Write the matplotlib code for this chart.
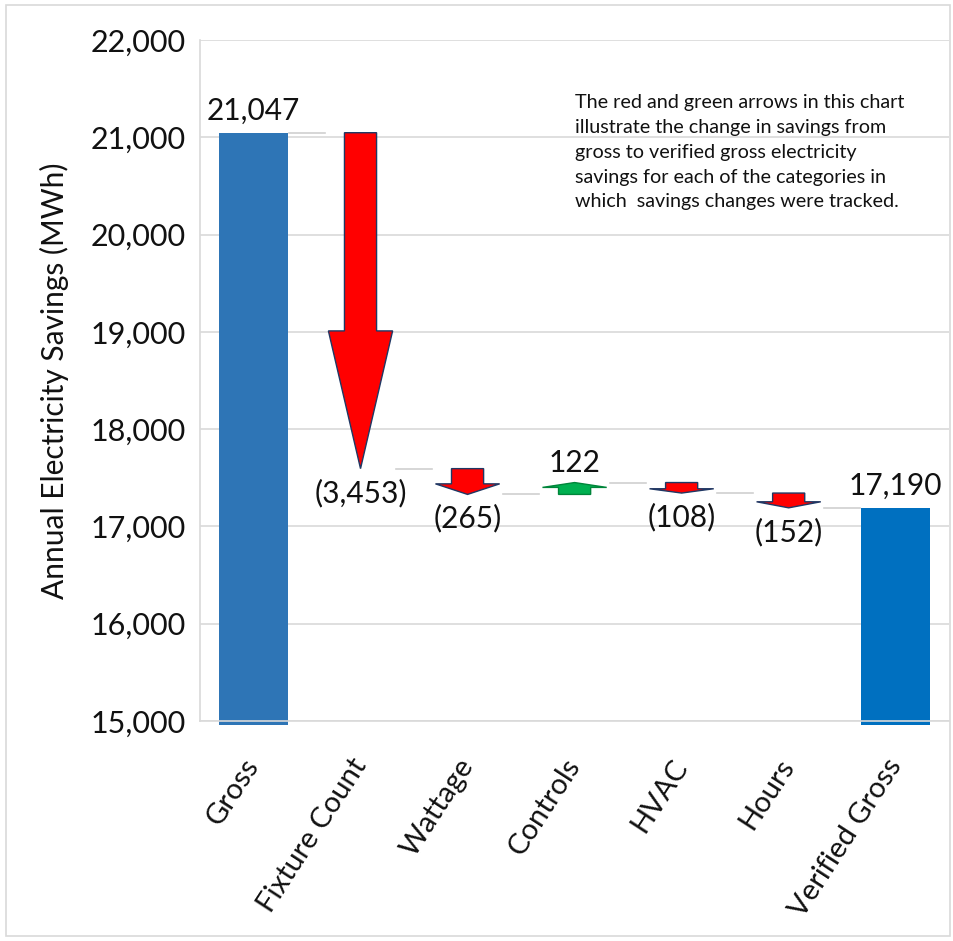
import matplotlib
matplotlib.use("Agg")
import matplotlib.pyplot as plt
from matplotlib.patches import Rectangle
from matplotlib.ticker import FuncFormatter

plt.rcParams["font.family"] = ["Lato", "DejaVu Sans"]

# data
categories = ["Gross", "Fixture Count", "Wattage", "Controls", "HVAC", "Hours", "Verified Gross"]
gross_total = 21047
changes = [-3453, -265, 122, -108, -152]
verified_total = 17190
note = ("The red and green arrows in this chart\n"
        "illustrate the change in savings from\n"
        "gross to verified gross electricity\n"
        "savings for each of the categories in\n"
        "which  savings changes were tracked.")

fig = plt.figure(figsize=(9.54, 9.41), dpi=100)
ax = fig.add_axes([0.2096, 0.2338, 0.7854, 0.7237])

ax.set_xlim(-0.5, 6.5)
ax.set_ylim(15000, 22000)
ax.set_yticks(range(15000, 22001, 1000))
ax.yaxis.set_major_formatter(FuncFormatter(lambda v, p: f"{int(v):,}"))
ax.grid(axis="y", color="#D9D9D9", linewidth=1.2, zorder=0)
ax.set_axisbelow(True)
for s in ["top", "right"]:
    ax.spines[s].set_visible(False)
for s in ["left", "bottom"]:
    ax.spines[s].set_color("#D9D9D9")
    ax.spines[s].set_linewidth(1.2)
    ax.spines[s].set_zorder(5)
ax.tick_params(axis="both", length=0, labelsize=22, colors="#111111")
ax.tick_params(axis="y", pad=10)
ax.set_ylabel("Annual Electricity Savings (MWh)", fontsize=21.5, labelpad=16, color="#111111")

ax.set_xticks(range(len(categories)))
ax.set_xticklabels(categories, rotation=57, ha="right", va="center",
                   rotation_mode="anchor", fontsize=21)
ax.tick_params(axis="x", pad=29)

bw = 0.65
# totals
ax.bar(0, gross_total - 14955, bottom=14955, width=bw, color="#2E75B6", zorder=3, clip_on=False)
ax.bar(6, verified_total - 14955, bottom=14955, width=bw, color="#0070C0", zorder=3, clip_on=False)
ax.annotate(f"{gross_total:,}", (0, gross_total), xytext=(0, 6), textcoords="offset points",
            ha="center", va="bottom", fontsize=21.5, color="#111111")
ax.annotate(f"{verified_total:,}", (6, verified_total), xytext=(0, 6), textcoords="offset points",
            ha="center", va="bottom", fontsize=21.5, color="#111111")

# arrows for each change
level = gross_total
levels = [gross_total]
for i, d in enumerate(changes, start=1):
    col = "#FF0000" if d < 0 else "#00B050"
    edge = "#1F3864" if d < 0 else "#00853A"
    ax.arrow(i, level, 0, d, width=0.3, head_width=0.6, head_length=abs(d) * 0.41,
             length_includes_head=True, facecolor=col, edgecolor=edge, linewidth=1.0, zorder=4)
    end = level + d
    if d < 0:
        txt = f"({abs(d):,})"
        ax.annotate(txt, (i, end), xytext=(0, -7), textcoords="offset points",
                    ha="center", va="top", fontsize=21.5, color="#111111")
    else:
        ax.annotate(f"{d:,}", (i, end), xytext=(0, 4), textcoords="offset points",
                    ha="center", va="bottom", fontsize=21.5, color="#111111")
    level = end
    levels.append(level)

# connector lines
for i, lv in enumerate(levels):
    ax.plot([i + 0.33, i + 0.67], [lv, lv], color="#D0D0D0", linewidth=1.2, zorder=2)

ax.text(0.5, 0.92, note, transform=ax.transAxes, ha="left", va="top",
        fontsize=14.2, linespacing=1.55, color="#111111")

fig.patches.append(Rectangle((0.006, 0.005), 0.99, 0.99, transform=fig.transFigure,
                             fill=False, edgecolor="#D9D9D9", linewidth=1.2))

fig.savefig("out.png", dpi=100)
